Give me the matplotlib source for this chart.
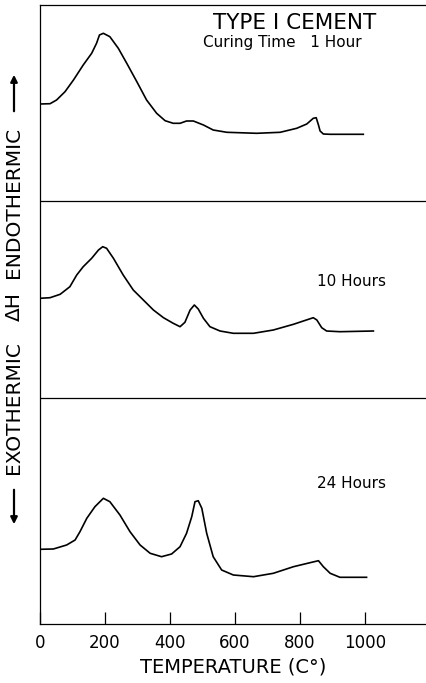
import matplotlib.pyplot as plt

# DTA traces (temperature in C, deflection in arbitrary units)
temp_1h = [0, 31, 51, 77, 103, 133, 159, 174, 183, 195, 215, 241, 267, 298, 328, 359, 385, 410, 431,
           451, 472, 503, 533, 575, 667, 739, 790, 821, 841, 850, 857, 862, 872, 893, 995]
dh_1h = [520, 520.3, 524, 532.3, 544, 559, 570.7, 580.7, 589, 590.7, 587.3, 575.7, 560.7, 542.3, 524,
         510.7, 503.3, 500.7, 500.7, 503, 503, 499, 494, 491.7, 490.7, 491.7, 495.7, 500, 505.7, 506.3,
         499, 493, 490, 489.7, 489.7]

temp_10h = [0, 31, 62, 92, 113, 133, 159, 180, 193, 205, 226, 256, 287, 318, 349, 380, 410, 431, 446,
            462, 475, 487, 503, 523, 554, 595, 657, 718, 780, 841, 852, 867, 882, 923, 1026]
dh_10h = [325.7, 326.3, 329.7, 337.3, 349, 357.3, 365.7, 374, 377.3, 375.7, 365.7, 349, 334, 324, 314,
          306.3, 300.7, 297.3, 301.7, 314, 319, 315, 305.7, 297.3, 293, 290.7, 290.7, 294, 299.7, 306.3,
          304, 296.3, 293, 292.3, 293]

temp_24h = [0, 41, 82, 108, 123, 144, 169, 195, 215, 246, 277, 308, 339, 374, 405, 431, 451, 467, 477,
            487, 498, 513, 533, 559, 595, 657, 718, 780, 831, 857, 872, 893, 923, 1005]
dh_24h = [74.7, 75, 79, 84, 92.3, 105.7, 117.3, 125.7, 122.3, 109, 92.3, 79, 70.7, 67.3, 70, 77.3, 90.7,
          107.3, 122.3, 123.3, 115.7, 90.7, 67.3, 54, 49, 47.3, 50.7, 57.3, 61.3, 63.3, 57.3, 50.7, 46.7,
          46.7]

panel_breaks = [423, 226.5]
xticks = [0, 200, 400, 600, 800, 1000]

fig = plt.figure(figsize=(4.27, 6.83), dpi=100)
ax = fig.add_axes([40 / 427, 59 / 683, 387 / 427, 619 / 683])

for t, d in [(temp_1h, dh_1h), (temp_10h, dh_10h), (temp_24h, dh_24h)]:
    ax.plot(t, d, color="black", linewidth=1.2, solid_joinstyle="round")

for yb in panel_breaks:
    ax.axhline(yb, color="black", linewidth=0.9)

ax.set_xlim(0, 1191)
ax.set_ylim(0, 619)
ax.spines["right"].set_visible(False)
for s in ["left", "top", "bottom"]:
    ax.spines[s].set_linewidth(0.9)
ax.set_yticks([])
ax.set_xticks(xticks)
ax.set_xticklabels([str(v) for v in xticks], fontsize=12)
ax.tick_params(axis="x", direction="in", length=9, width=0.9, pad=7)
ax.set_xlabel("TEMPERATURE (C°)", fontsize=14, labelpad=4)

ax.text(532, 601, "TYPE I CEMENT", fontsize=15.5, va="center", ha="left")
ax.text(501, 582, "Curing Time   1 Hour", fontsize=11, va="center", ha="left")
ax.text(852, 343, "10 Hours", fontsize=11, va="center", ha="left")
ax.text(852, 141, "24 Hours", fontsize=11, va="center", ha="left")


# rotated side label with arrows
def fy(py):
    return 1 - py / 683


fx = 14 / 427
fig.text(fx, fy(202), "ENDOTHERMIC", rotation=90, fontsize=14.5, ha="center", va="center")
fig.text(fx, fy(306), "ΔH", rotation=90, fontsize=14.5, ha="center", va="center")
fig.text(fx, fy(408), "EXOTHERMIC", rotation=90, fontsize=14.5, ha="center", va="center")
ax.annotate("", xy=(fx, fy(72)), xytext=(fx, fy(114)), xycoords="figure fraction",
            arrowprops=dict(arrowstyle="-|>", color="black", lw=1.6, mutation_scale=10))
ax.annotate("", xy=(fx, fy(527)), xytext=(fx, fy(487)), xycoords="figure fraction",
            arrowprops=dict(arrowstyle="-|>", color="black", lw=1.6, mutation_scale=10))

fig.savefig("out.png", dpi=100)
